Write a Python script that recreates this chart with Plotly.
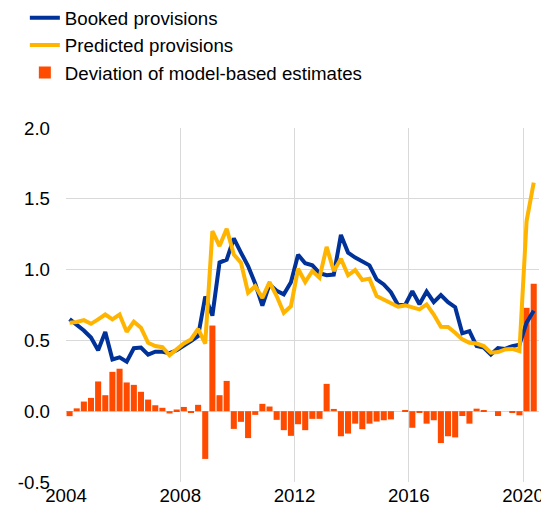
import plotly.graph_objects as go

# Quarterly categories 2004Q1 .. 2020Q2
quarters = [f"{y}Q{q}" for y in range(2004, 2021) for q in range(1, 5)][:66]

booked = [0.65, 0.61, 0.57, 0.52, 0.43, 0.56, 0.365, 0.38, 0.35, 0.445,
          0.45, 0.40, 0.42, 0.42, 0.41, 0.43, 0.46, 0.495, 0.53, 0.81,
          0.675, 1.05, 1.07, 1.22, 1.12, 1.025, 0.90, 0.745, 0.895, 0.85,
          0.825, 0.91, 1.105, 1.045, 1.03, 0.975, 0.96, 0.965, 1.245, 1.12,
          1.085, 1.055, 1.03, 0.93, 0.895, 0.84, 0.75, 0.75, 0.848, 0.755,
          0.845, 0.77, 0.82, 0.77, 0.735, 0.55, 0.565, 0.46, 0.45, 0.40,
          0.445, 0.44, 0.46, 0.47, 0.625, 0.71]

predicted = [0.625, 0.63, 0.643, 0.617, 0.648, 0.683, 0.648, 0.683, 0.561, 0.632,
             0.589, 0.483, 0.46, 0.452, 0.396, 0.436, 0.478, 0.507, 0.582, 0.478,
             1.272, 1.166, 1.289, 1.107, 1.049, 0.837, 0.883, 0.80, 0.912, 0.813,
             0.695, 0.742, 1.006, 0.912, 0.99, 0.943, 1.16, 0.99, 1.077, 0.96,
             0.997, 0.926, 0.936, 0.813, 0.789, 0.761, 0.738, 0.747, 0.73, 0.719,
             0.754, 0.683, 0.596, 0.595, 0.554, 0.507, 0.483, 0.478, 0.46, 0.413,
             0.418, 0.436, 0.44, 0.424, 1.343, 1.614]

deviation = [-0.035, 0.02, 0.068, 0.094, 0.21, 0.113, 0.278, 0.30, 0.203, 0.186,
             0.137, 0.082, 0.042, 0.024, -0.016, 0.012, 0.03, -0.012, 0.045, -0.337,
             0.605, 0.113, 0.214, -0.125, -0.075, -0.19, -0.026, 0.052, 0.033, -0.061,
             -0.134, -0.174, -0.092, -0.134, -0.054, -0.054, 0.193, 0.016, -0.177, -0.158,
             -0.088, -0.127, -0.088, -0.073, -0.064, -0.058, 0.0, 0.006, -0.117, -0.006,
             -0.088, -0.064, -0.225, -0.177, -0.185, -0.034, -0.088, 0.018, 0.002, 0.0,
             -0.034, 0.0, -0.013, -0.029, 0.73, 0.90]

tick_years = [2004, 2008, 2012, 2016, 2020]
tick_labels = ["2004", "2008", "2012", "2016", "2020"]
y_ticks = [-0.5, 0.0, 0.5, 1.0, 1.5, 2.0]
y_labels = ["-0.5", "0.0", "0.5", "1.0", "1.5", "2.0"]

# Mid-quarter positions on a continuous year axis
x = [int(s[:4]) + (int(s[-1]) - 0.5) / 4 for s in quarters]

BLUE = "#003299"
YELLOW = "#FFB400"
ORANGE = "#FF4B00"
FONT = "Liberation Sans, Arial, sans-serif"

fig = go.Figure()
fig.add_trace(go.Scatter(x=x, y=booked, mode="lines", name="Booked provisions",
                         line=dict(color=BLUE, width=4)))
fig.add_trace(go.Scatter(x=x, y=predicted, mode="lines", name="Predicted provisions",
                         line=dict(color=YELLOW, width=4)))
fig.add_trace(go.Bar(x=x, y=deviation, name="Deviation of model-based estimates",
                     marker=dict(color=ORANGE, line=dict(width=0))))

# The page body adds an 8px offset, so the figure is 8px smaller than the window
fig.update_layout(
    width=541, height=497,
    margin=dict(l=58, r=10, t=120, b=23, autoexpand=False),
    paper_bgcolor="white", plot_bgcolor="white",
    font=dict(family=FONT, size=18.7, color="#000000"),
    bargap=0.15,
    showlegend=True,
    legend=dict(x=-0.087, xanchor="left", y=1.364, yanchor="top",
                bgcolor="rgba(0,0,0,0)", font=dict(size=18.7),
                traceorder="normal", itemwidth=30),
)
fig.update_xaxes(range=[2004, 2020.56], tickvals=tick_years, ticktext=tick_labels,
                 showgrid=True, gridcolor="#d9d9d9", gridwidth=1,
                 zeroline=False, showline=False, ticks="", ticklabelstandoff=0)
fig.update_yaxes(range=[-0.5, 2.0], tickvals=y_ticks, ticktext=y_labels,
                 showgrid=True, gridcolor="#d9d9d9", gridwidth=1,
                 zeroline=False, showline=False, ticks="", ticklabelstandoff=15)

fig.write_html("out.html")
